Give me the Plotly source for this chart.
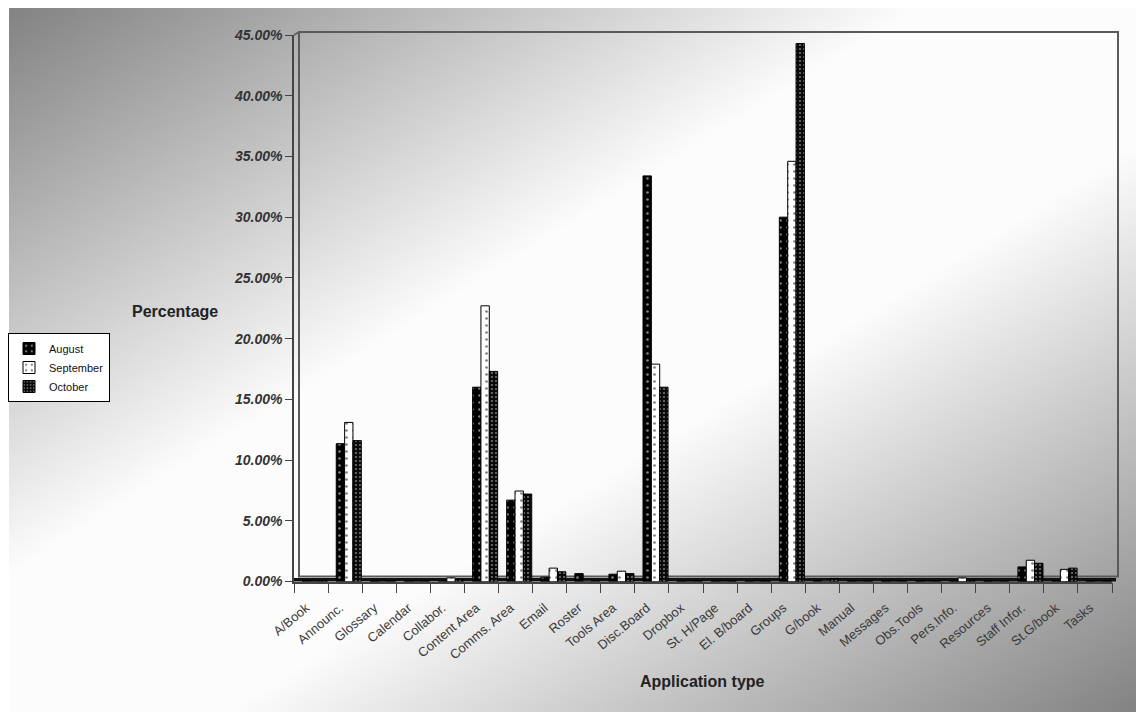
import base64
import struct
import zlib

import plotly.graph_objects as go

# Monthly share of usage by application type (percent)
categories = ["A/Book", "Announc.", "Glossary", "Calendar", "Collabor.", "Content Area",
              "Comms. Area", "Email", "Roster", "Tools Area", "Disc.Board", "Dropbox",
              "St. H/Page", "El. B/board", "Groups", "G/book", "Manual", "Messages",
              "Obs.Tools", "Pers.Info.", "Resources", "Staff Infor.", "St.G/book", "Tasks"]
august = [0.1, 11.35, 0.05, 0.05, 0.1, 16.0, 6.7, 0.35, 0.65, 0.6, 33.4, 0.05,
          0.05, 0.05, 30.0, 0.1, 0.05, 0.05, 0.05, 0.1, 0.05, 1.2, 0.1, 0.05]
september = [0.05, 13.1, 0.05, 0.05, 0.3, 22.7, 7.45, 1.1, 0.1, 0.85, 17.9, 0.05,
             0.05, 0.05, 34.6, 0.1, 0.05, 0.05, 0.05, 0.3, 0.05, 1.75, 1.0, 0.05]
october = [0.1, 11.6, 0.05, 0.05, 0.15, 17.3, 7.2, 0.8, 0.1, 0.65, 16.0, 0.05,
           0.05, 0.05, 44.3, 0.25, 0.05, 0.05, 0.05, 0.1, 0.05, 1.5, 1.1, 0.05]
y_ticks = [0, 5, 10, 15, 20, 25, 30, 35, 40, 45]
y_tick_labels = [f"{v:.2f}%" for v in y_ticks]

W, H = 1136, 712
FONT = "Liberation Sans, Arial, sans-serif"


def gradient_png(w, h):
    """Diagonal grey-white-grey backdrop encoded as a PNG data URI."""
    rows = []
    for j in range(h):
        row = bytearray([0])
        for i in range(w):
            t = (i / (w - 1) + j / (h - 1)) / 2
            d = abs(t - 0.5)
            c = 252 if d < 0.1 else int(252 - (d - 0.1) / 0.4 * 120)
            row += bytes([c, c, c])
        rows.append(bytes(row))
    raw = b"".join(rows)

    def chunk(tag, data):
        return (struct.pack(">I", len(data)) + tag + data
                + struct.pack(">I", zlib.crc32(tag + data) & 0xffffffff))

    png = (b"\x89PNG\r\n\x1a\n"
           + chunk(b"IHDR", struct.pack(">IIBBBBB", w, h, 8, 2, 0, 0, 0))
           + chunk(b"IDAT", zlib.compress(raw, 9))
           + chunk(b"IEND", b""))
    return "data:image/png;base64," + base64.b64encode(png).decode()


def px(x):
    return x / W


def py(y):
    return 1 - y / H


BAR_W = 0.245
series = [
    ("August", august, -0.26,
     dict(bgcolor="#000000", fgcolor="#ffffff", shape=".", size=7, solidity=0.12)),
    ("September", september, -0.015,
     dict(bgcolor="#ffffff", fgcolor="#000000", shape=".", size=7, solidity=0.12)),
    ("October", october, 0.23,
     dict(bgcolor="#0a0a0a", fgcolor="#e0e0e0", shape=".", size=4, solidity=0.22)),
]

fig = go.Figure()
for name, vals, off, pat in series:
    fig.add_trace(go.Bar(
        x=categories, y=vals, name=name, width=BAR_W, offset=off,
        marker=dict(color=pat["bgcolor"], pattern=pat,
                    line=dict(color="#000000", width=1)),
    ))

# plot frame: front axes at (294, 581.5), back wall shifted up-right
x0, x1, y0, y1 = 294, 1112, 581.5, 35
shapes = [
    dict(type="rect", xref="paper", yref="paper",
         x0=px(299), x1=px(1118), y0=py(576.5), y1=py(32),
         line=dict(color="#5a5a5a", width=2), fillcolor="rgba(0,0,0,0)", layer="below"),
    dict(type="line", xref="paper", yref="paper",
         x0=px(294), y0=py(35), x1=px(299), y1=py(32),
         line=dict(color="#5a5a5a", width=1.5)),
    dict(type="rect", xref="paper", yref="paper",
         x0=px(294), x1=px(1116), y0=py(581.5), y1=py(578),
         line=dict(width=0), fillcolor="#111111", layer="below"),
]

fig.update_layout(
    width=W, height=H, autosize=False,
    margin=dict(l=0, r=0, t=0, b=0, pad=0, autoexpand=False),
    paper_bgcolor="#ffffff", plot_bgcolor="rgba(0,0,0,0)",
    barmode="group",
    font=dict(family=FONT, color="#333333"),
    images=[dict(source=gradient_png(284, 176), xref="paper", yref="paper",
                 x=px(9), y=py(8), sizex=1 - px(9), sizey=py(8),
                 xanchor="left", yanchor="top", sizing="stretch", layer="below")],
    shapes=shapes,
    xaxis=dict(domain=[px(x0), px(x1)], type="category", automargin=False,
               showline=True, linecolor="#444444", linewidth=1.5,
               ticks="outside", tickson="boundaries", ticklen=10, tickcolor="#444444",
               tickangle=-40, ticklabelstandoff=12, ticklabelshift=-5,
               tickfont=dict(family=FONT, size=13, color="#3a3a3a"),
               showgrid=False, zeroline=False),
    yaxis=dict(domain=[py(y0), py(y1)], range=[0, 45], automargin=False,
               tickvals=y_ticks, ticktext=y_tick_labels,
               showline=True, linecolor="#444444", linewidth=1.5,
               ticks="outside", ticklen=7, tickcolor="#444444",
               tickfont=dict(family=FONT, size=14, color="#333333", weight="bold", style="italic"),
               showgrid=False, zeroline=False),
    legend=dict(x=px(8), y=py(333), xanchor="left", yanchor="top",
                bgcolor="#ffffff", bordercolor="#000000", borderwidth=1,
                font=dict(family=FONT, size=11, color="#111111"),
                itemwidth=30, tracegroupgap=2),
    annotations=[
        dict(text="<b>Percentage</b>", xref="paper", yref="paper",
             x=px(175), y=py(311), xanchor="center", yanchor="middle", showarrow=False,
             font=dict(family=FONT, size=16, color="#222222")),
        dict(text="<b>Application type</b>", xref="paper", yref="paper",
             x=px(702), y=py(681), xanchor="center", yanchor="middle", showarrow=False,
             font=dict(family=FONT, size=16, color="#222222")),
    ],
)

fig.write_html("out.html")
